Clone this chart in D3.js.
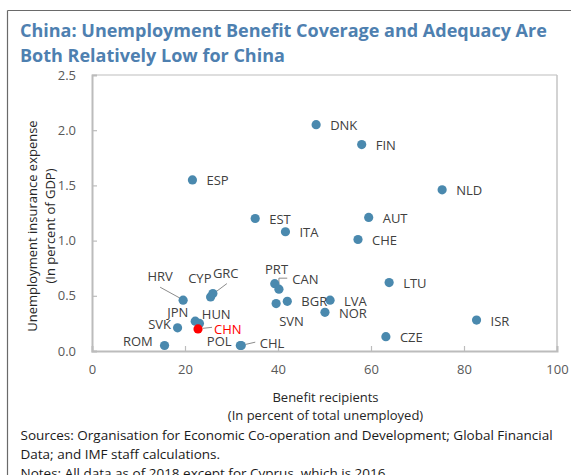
<!DOCTYPE html>
<html>
<head>
<meta charset="utf-8">
<script src="https://cdn.jsdelivr.net/npm/d3@7"></script>
<style>
  html, body { margin: 0; padding: 0; background: #fff; }
  svg { display: block; }
  text { font-family: "Open Sans", "Noto Sans", sans-serif; }
</style>
</head>
<body>
<svg id="chart" width="571" height="475"></svg>
<script>
// ---- Data ----
const countries  = ["DNK","FIN","NLD","AUT","CHE","ESP","EST","ITA","LTU","LVA","NOR","ISR","CZE","BGR","SVN","PRT","CAN","HRV","CYP","GRC","JPN","HUN","SVK","ROM","POL","CHL","CHN"];
const recipients = [48.2, 58.0, 75.3, 59.5, 57.2, 21.6, 35.1, 41.6, 63.9, 51.2, 50.1, 82.7, 63.2, 42.0, 39.6, 39.3, 40.2, 19.6, 25.5, 26.0, 22.2, 23.1, 18.4, 15.6, 31.9, 32.1, 22.8];
const expense    = [2.05, 1.87, 1.46, 1.21, 1.01, 1.55, 1.20, 1.08, 0.62, 0.46, 0.35, 0.28, 0.13, 0.45, 0.43, 0.61, 0.56, 0.46, 0.49, 0.52, 0.27, 0.25, 0.21, 0.05, 0.05, 0.05, 0.20];
const highlight  = "CHN";
const xTicks = [0, 20, 40, 60, 80, 100];
const yTicks = [0.0, 0.5, 1.0, 1.5, 2.0, 2.5];

const titleLines = ["China: Unemployment Benefit Coverage and Adequacy Are", "Both Relatively Low for China"];
const xTitle = ["Benefit recipients", "(In percent of total unemployed)"];
const yTitle = ["Unemployment insurance expense", "(In percent of GDP)"];
const notes = ["Sources: Organisation for Economic Co-operation and Development; Global Financial",
               "Data; and IMF staff calculations.",
               "Notes: All data as of 2018 except for Cyprus, which is 2016."];

// ---- Layout (label placement relative to each dot) ----
const labelOffset = {
  HRV: [-35.7, -23.6], CYP: [-22.4, -18], GRC: [0, -20.6], JPN: [-28, -8.7], HUN: [2.4, -9],
  CHN: [16, 0.7], SVK: [-29.4, -3.7], ROM: [-41.6, -4.3], POL: [-33.5, -4], CHL: [18.5, -1.7],
  PRT: [-9.7, -14.7], CAN: [13.3, -9.7], SVN: [3, 18], BGR: [14, 0]
};
const leaders = {
  HRV: [[-3, -2], [-23, -13]],
  GRC: [[2, -1], [14, -10]],
  CHN: [[5, -0.6], [14, -1.6]],
  CHL: [[4, -1], [14, -3.3]],
  CAN: [[0, -3], [0, -11], [8.3, -11]]
};

const W = 571, H = 475;
const M = { left: 92, right: 557, top: 75, bottom: 351 };
const svg = d3.select("#chart");

const x = d3.scaleLinear().domain([0, 100]).range([M.left, M.right]);
const y = d3.scaleLinear().domain([0, 2.5]).range([M.bottom, M.top]);

// outer frame
svg.append("line").attr("x1", 7.5).attr("x2", 7.5).attr("y1", 10.5).attr("y2", H)
  .attr("stroke", "#6a6a6a").attr("stroke-width", 1.2);
svg.append("line").attr("x1", 7.5).attr("x2", W).attr("y1", 10.5).attr("y2", 10.5)
  .attr("stroke", "#6a6a6a").attr("stroke-width", 1.2);

function fit(sel, target) {
  const node = sel.node();
  const w = node.getComputedTextLength();
  const fs = parseFloat(sel.attr("font-size"));
  sel.attr("font-size", (fs * target / w).toFixed(2));
}

// title
const tl1 = svg.append("text").attr("x", 20).attr("y", 31).attr("dy", "0.35em")
  .attr("font-size", 18).attr("font-weight", "bold").attr("fill", "#4e80b0").text(titleLines[0]);
fit(tl1, 527);
svg.append("text").attr("x", 20).attr("y", 56).attr("dy", "0.35em")
  .attr("font-size", tl1.attr("font-size")).attr("font-weight", "bold").attr("fill", "#4e80b0").text(titleLines[1]);

// plot box top/right
svg.append("line").attr("x1", M.left).attr("x2", M.right).attr("y1", M.top).attr("y2", M.top)
  .attr("stroke", "#d3d3d3").attr("stroke-width", 1.5);
svg.append("line").attr("x1", M.right).attr("x2", M.right).attr("y1", M.top).attr("y2", M.bottom)
  .attr("stroke", "#c4c4c4").attr("stroke-width", 1.5);

// axes
const axisColor = "#bcbcbc";
const gx = svg.append("g").attr("transform", `translate(0,${M.bottom})`)
  .call(d3.axisBottom(x).tickValues(xTicks).tickSize(-5).tickPadding(14).tickFormat(d3.format("d")));
const gy = svg.append("g").attr("transform", `translate(${M.left},0)`)
  .call(d3.axisLeft(y).tickValues(yTicks).tickSize(-5).tickPadding(16).tickFormat(d3.format(".1f")));
[gx, gy].forEach(g => {
  g.select(".domain").attr("stroke", axisColor).attr("stroke-width", 2);
  g.selectAll(".tick line").attr("stroke", axisColor).attr("stroke-width", 1.2);
  g.selectAll(".tick text").attr("font-size", 13).attr("fill", "#595959")
    .attr("font-family", "'Open Sans', sans-serif");
});
gx.selectAll(".tick").filter(d => d === 0 || d === 100).select("line").remove();
gy.selectAll(".tick").filter(d => d === 0 || d === 2.5).select("line").remove();

// axis titles
svg.append("text").attr("x", (M.left + M.right) / 2 + 1).attr("y", 397).attr("dy", "0.35em")
  .attr("text-anchor", "middle").attr("font-size", 13).attr("fill", "#262626").text(xTitle[0]);
svg.append("text").attr("x", (M.left + M.right) / 2 + 1).attr("y", 415).attr("dy", "0.35em")
  .attr("text-anchor", "middle").attr("font-size", 13).attr("fill", "#262626").text(xTitle[1]);
svg.append("text").attr("transform", "translate(32,226) rotate(-90)").attr("dy", "0.35em")
  .attr("text-anchor", "middle").attr("font-size", 13).attr("fill", "#262626").text(yTitle[0]);
svg.append("text").attr("transform", "translate(50,226) rotate(-90)").attr("dy", "0.35em")
  .attr("text-anchor", "middle").attr("font-size", 13).attr("fill", "#262626").text(yTitle[1]);

// notes
const n0 = svg.append("text").attr("x", 20.5).attr("y", 435).attr("dy", "0.35em")
  .attr("font-size", 14).attr("fill", "#1a1a1a").text(notes[0]);
fit(n0, 532);
const nfs = n0.attr("font-size");
svg.append("text").attr("x", 20.5).attr("y", 454).attr("dy", "0.35em")
  .attr("font-size", nfs).attr("fill", "#1a1a1a").text(notes[1]);
svg.append("text").attr("x", 20.5).attr("y", 473).attr("dy", "0.35em")
  .attr("font-size", nfs).attr("fill", "#1a1a1a").text(notes[2]);

// data
const data = countries.map((c, i) => ({ c, x: recipients[i], y: expense[i] }));

// leader lines
const lineGen = d3.line();
data.filter(d => leaders[d.c]).forEach(d => {
  const pts = leaders[d.c].map(p => [x(d.x) + p[0], y(d.y) + p[1]]);
  svg.append("path").attr("d", lineGen(pts)).attr("fill", "none")
    .attr("stroke", "#8c8c8c").attr("stroke-width", 1);
});

// dots
svg.append("g").selectAll("circle").data(data.filter(d => d.c !== highlight).concat(data.filter(d => d.c === highlight)))
  .join("circle")
  .attr("cx", d => x(d.x)).attr("cy", d => y(d.y)).attr("r", 4.6)
  .attr("fill", d => d.c === highlight ? "#ff0000" : "#4a89ae");

// labels
svg.append("g").selectAll("text").data(data).join("text")
  .attr("x", d => x(d.x) + (labelOffset[d.c] ? labelOffset[d.c][0] : 14))
  .attr("y", d => y(d.y) + (labelOffset[d.c] ? labelOffset[d.c][1] : 1))
  .attr("dy", "0.35em").attr("font-size", 13)
  .attr("fill", d => d.c === highlight ? "#ff0000" : "#404040")
  .text(d => d.c);
</script>
</body>
</html>
